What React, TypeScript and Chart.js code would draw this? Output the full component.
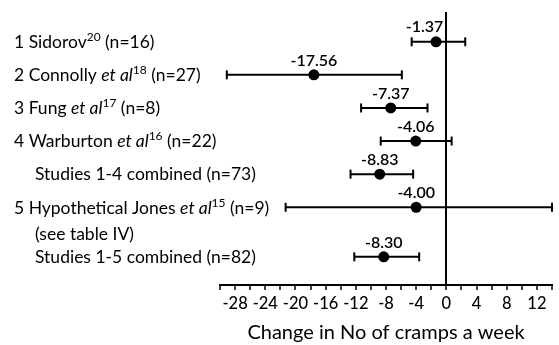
import React, { useEffect, useRef } from "react";
import { Chart, registerables } from "chart.js";

Chart.register(...registerables);

// ---- data ----
type Seg = [string, ("n" | "i" | "sup")?];
const studyLabels: Seg[][] = [
  [["1 Sidorov"], ["20", "sup"], [" (n=16)"]],
  [["2 Connolly "], ["et al", "i"], ["18", "sup"], [" (n=27)"]],
  [["3 Fung "], ["et al", "i"], ["17", "sup"], [" (n=8)"]],
  [["4 Warburton "], ["et al", "i"], ["16", "sup"], [" (n=22)"]],
  [["Studies 1-4 combined (n=73)"]],
  [["5 Hypothetical Jones "], ["et al", "i"], ["15", "sup"], [" (n=9)"]],
  [["Studies 1-5 combined (n=82)"]],
];
const pooled = [false, false, false, false, true, false, true];
const subLabels = ["", "", "", "", "", "(see table IV)", ""];
const rowPos = [0, 1, 2, 3, 4, 5, 6.5];
const means = [-1.37, -17.56, -7.37, -4.06, -8.83, -4.0, -8.3];
const ciLow = [-4.6, -29.1, -11.3, -8.7, -12.7, -21.3, -12.2];
const ciHigh = [2.5, -5.9, -2.5, 0.7, -4.4, 14.0, -3.6];
const xMin = -30;
const xMax = 14;
const xStep = 2;
const xLabelStep = 4;
const xTitle = "Change in No of cramps a week";

const FONT = "Lato";

const labelPlugin = {
  id: "forestLabels",
  afterDraw(chart: any) {
    const ctx = chart.ctx as CanvasRenderingContext2D;
    const xs = chart.scales.x;
    const ys = chart.scales.y;
    ctx.save();
    ctx.fillStyle = "#000";
    const base = 17.5;
    studyLabels.forEach((segs, i) => {
      const yc = ys.getPixelForValue(rowPos[i]);
      let x = pooled[i] ? 35 : 14;
      const baseline = yc + base * 0.36;
      ctx.textBaseline = "alphabetic";
      ctx.textAlign = "left";
      segs.forEach(([t, st]) => {
        if (st === "sup") {
          ctx.font = `${Math.round(base * 0.68)}px ${FONT}`;
          ctx.fillText(t, x, baseline - base * 0.4);
        } else if (st === "i") {
          ctx.font = `italic ${base}px ${FONT}`;
          ctx.fillText(t, x, baseline);
        } else {
          ctx.font = `${base}px ${FONT}`;
          ctx.fillText(t, x, baseline);
        }
        x += ctx.measureText(t).width;
      });
      if (subLabels[i]) {
        ctx.font = `${base}px ${FONT}`;
        ctx.fillText(subLabels[i], 35, baseline + 26);
      }
      // value label
      ctx.font = `600 16px ${FONT}`;
      ctx.textBaseline = "middle";
      const txt = means[i].toFixed(2);
      const w = ctx.measureText(txt).width;
      const cx = xs.getPixelForValue(means[i]);
      const zero = xs.getPixelForValue(0);
      let left = cx - w / 2;
      if (left < zero && left + w > zero - 2) left = zero - 3 - w;
      ctx.textAlign = "left";
      ctx.fillText(txt, left, yc - 14.5);
    });
    ctx.restore();
  },
};

export default function App() {
  const ref = useRef<HTMLCanvasElement>(null);
  useEffect(() => {
    if (!ref.current) return;
    const ciSets = rowPos.map((r, i) => ({
      type: "line" as const,
      data: [
        { x: ciLow[i], y: r },
        { x: ciHigh[i], y: r },
      ],
      borderColor: "#000",
      borderWidth: 2,
      showLine: true,
      pointStyle: "line" as const,
      pointRotation: 90,
      pointRadius: 4.5,
      pointBorderWidth: 2,
      pointBorderColor: "#000",
      pointHoverRadius: 4.5,
      clip: false as any,
    }));
    const chart = new Chart(ref.current, {
      type: "scatter",
      data: {
        datasets: [
          ...ciSets,
          {
            type: "scatter",
            data: rowPos.map((r, i) => ({ x: means[i], y: r })),
            pointRadius: 5.5,
            pointBackgroundColor: "#000",
            pointBorderColor: "#000",
            pointBorderWidth: 0,
            clip: false as any,
          } as any,
        ],
      },
      options: {
        animation: false,
        responsive: false,
        events: [],
        layout: { padding: { left: 220, right: 7, top: 12, bottom: 0 } },
        plugins: { legend: { display: false }, tooltip: { enabled: false } },
        scales: {
          x: {
            type: "linear",
            min: xMin,
            max: xMax,
            afterFit: (s: any) => {
              s.height = 60;
            },
            border: { display: true, color: "#000", width: 2 },
            grid: {
              drawOnChartArea: true,
              color: (c: any) => (c.tick && c.tick.value === 0 ? "#000" : "rgba(0,0,0,0)"),
              lineWidth: 2,
              tickColor: "#000",
              tickWidth: 1.5,
              tickLength: 5,
            },
            ticks: {
              stepSize: xStep,
              autoSkip: false,
              maxRotation: 0,
              padding: 4,
              color: "#000",
              font: { family: FONT, size: 16.5, weight: 500 as any },
              callback: (v: any) =>
                v % xLabelStep === 0 && v > xMin && v < xMax ? String(v) : "",
            },
            title: {
              display: true,
              text: xTitle,
              color: "#000",
              font: { family: FONT, size: 20 },
              padding: { top: 0, bottom: 0 },
            },
          },
          y: {
            type: "linear",
            display: false,
            min: -0.9,
            max: 7.35,
            reverse: true,
          },
        },
      },
      plugins: [labelPlugin],
    });
    return () => chart.destroy();
  }, []);
  return (
    <div style={{ position: "absolute", left: 0, top: 0, width: 559, height: 345, background: "#fff" }}>
      <canvas ref={ref} width={559} height={345} />
    </div>
  );
}
